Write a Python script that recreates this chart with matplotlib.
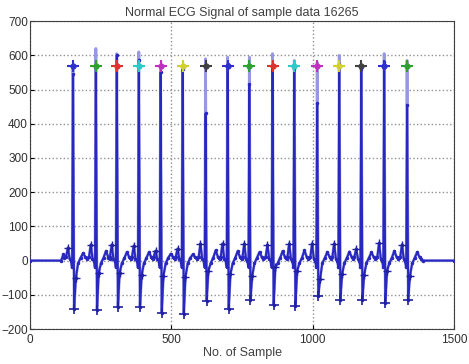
import matplotlib.pyplot as plt
import numpy as np

plt.rcParams["font.family"] = ["Liberation Sans", "DejaVu Sans"]

# beat annotations (sample index / amplitude)
r_loc = [152, 233, 307, 385, 462, 540, 621, 699, 776, 858, 935, 1016, 1094, 1172, 1253, 1334]
r_amp_raw = [570, 620, 605, 610, 560, 570, 590, 595, 595, 605, 585, 580, 600, 570, 605, 585]
r_amp_filt = [545, 565, 600, 585, 550, 560, 430, 575, 515, 565, 560, 460, 575, 560, 580, 455]
s_amp = [-141, -143, -137, -135, -152, -155, -117, -140, -114, -129, -132, -103, -114, -114, -123, -114]
q2_amp = [-52, -35, -35, -41, -44, -47, -30, -40, -45, -20, -30, -55, -40, -42, -30, -45]
p_amp = [38, 47, 47, 44, 29, 35, 50, 50, 50, 47, 50, 50, 50, 35, 52, 47]
t_amp = [22, 28, 25, 25, 20, 18, 30, 28, 25, 28, 30, 25, 26, 24, 28, 25]
peak_level = 570
peak_colors = ["#3030d0", "#30a030", "#e03030", "#30c8c8", "#c030c0", "#d0d030", "#404040",
               "#3030d0", "#30a030", "#e03030", "#30c8c8", "#c030c0", "#d0d030", "#404040",
               "#3030d0", "#30a030"]

# beat shape template: offsets from R
shape_off = [-30, -24, -18, -12, -7, -3, 0, 4, 10, 18, 27, 36, 44, 50]
signal_start = 110
signal_end = 1390


def build(r_amp):
    xs, ys = [0, signal_start, signal_start + 8, signal_start + 15], [0, 0, 18, 10]
    for i, r in enumerate(r_loc):
        vals = [8, 12, p_amp[i], 6, 0, -20, r_amp[i], s_amp[i], q2_amp[i],
                -8, 8, t_amp[i], 10, 5]
        for o, v in zip(shape_off, vals):
            xs.append(r + o)
            ys.append(v)
    xs += [signal_end, 1500]
    ys += [0, 0]
    return np.array(xs), np.array(ys)


fig = plt.figure(figsize=(4.69, 3.64), dpi=100)
ax = fig.add_axes([0.064, 0.096, 0.904, 0.846])

x_raw, y_raw = build(r_amp_raw)
x_f, y_f = build(r_amp_filt)
ax.plot(x_raw, y_raw, color="#9898e0", linewidth=2.0, zorder=2)
ax.plot(x_f, y_f, color="#2828c0", linewidth=1.4, marker=".", markersize=3, zorder=3)

r = np.array(r_loc)
ax.plot(r + 4, s_amp, "+", color="#2020a0", markersize=7, mew=1.2, zorder=4)
ax.plot(r + 10, q2_amp, "+", color="#2020a0", markersize=6, mew=1.0, zorder=4)
ax.plot(r - 18, p_amp, "+", color="#2020a0", markersize=6, mew=1.0, zorder=4)

for x, c in zip(r_loc, peak_colors):
    ax.plot(x, peak_level, "+", color=c, markersize=8, mew=1.5, zorder=5)
    ax.plot(x, peak_level, "o", color=c, markersize=3.5, zorder=5)

ax.set_xlim(0, 1500)
ax.set_ylim(-200, 700)
ax.set_xticks([0, 500, 1000, 1500])
ax.set_yticks(range(-200, 701, 100))
ax.grid(True, linestyle=":", color="#909090", linewidth=1.0)
ax.tick_params(direction="in", labelsize=8.5, length=3, labelcolor="#303030")
ax.tick_params(axis="y", pad=1.5)
for s in ax.spines.values():
    s.set_color("#404040")
ax.set_title("Normal ECG Signal of sample data 16265", fontsize=9, color="#404040", pad=4)
ax.set_xlabel("No. of Sample", fontsize=9, color="#404040", labelpad=1)

fig.savefig("out.png", dpi=100)
